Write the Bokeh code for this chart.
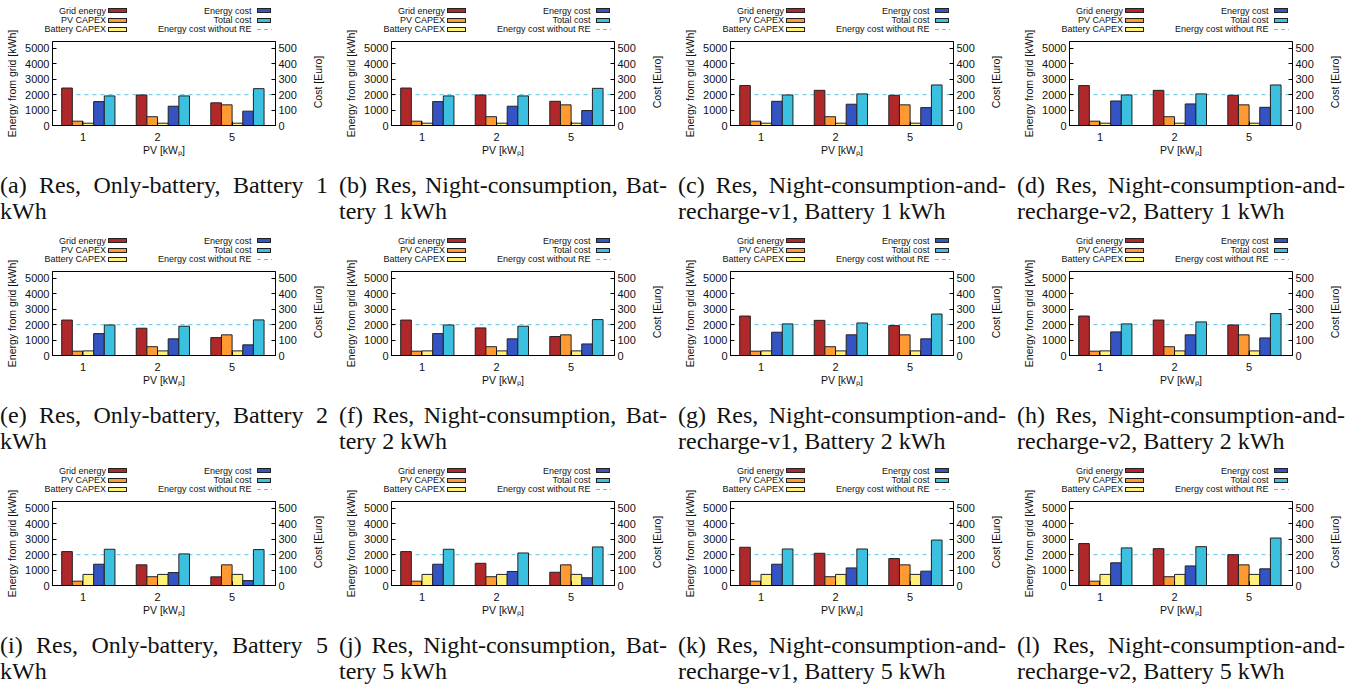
from bokeh.plotting import figure
from bokeh.models import Range1d, LinearAxis, FixedTicker, Span, Div, ColumnDataSource
from bokeh.layouts import column, row
from bokeh.transform import dodge
from bokeh.embed import file_html
from bokeh.resources import INLINE

# ---------------- data ----------------
PV_LABELS = ["1", "2", "5"]           # PV size [kWp]
PV_CAPEX = [28, 57, 134]              # Euro
BATT_CAPEX_1 = [15, 15, 15]           # Euro, battery 1 kWh
BATT_CAPEX_2 = [30, 30, 30]           # Euro, battery 2 kWh
BATT_CAPEX_5 = [72, 72, 72]           # Euro, battery 5 kWh
ENERGY_COST_NO_RE = 200               # Euro

GRID_A = [2430, 1980, 1470]; ECOST_A = [155, 125, 93];  TCOST_A = [192, 192, 239]
GRID_B = [2430, 1980, 1570]; ECOST_B = [155, 125, 97];  TCOST_B = [192, 192, 241]
GRID_C = [2590, 2280, 1960]; ECOST_C = [157, 138, 116]; TCOST_C = [198, 205, 263]
GRID_D = [2590, 2280, 1960]; ECOST_D = [159, 140, 118]; TCOST_D = [198, 205, 263]
GRID_E = [2300, 1770, 1160]; ECOST_E = [142, 108, 69];  TCOST_E = [198, 190, 231]
GRID_F = [2300, 1790, 1230]; ECOST_F = [142, 108, 75];  TCOST_F = [198, 190, 233]
GRID_G = [2560, 2280, 1940]; ECOST_G = [151, 134, 108]; TCOST_G = [205, 211, 269]
GRID_H = [2560, 2300, 1980]; ECOST_H = [153, 134, 114]; TCOST_H = [205, 218, 272]
GRID_I = [2200, 1340, 560];  ECOST_I = [138, 84, 32];   TCOST_I = [235, 205, 233]
GRID_J = [2200, 1440, 860];  ECOST_J = [138, 91, 50];   TCOST_J = [235, 211, 250]
GRID_K = [2480, 2090, 1750]; ECOST_K = [138, 114, 93];  TCOST_K = [237, 237, 295]
GRID_L = [2720, 2390, 2000]; ECOST_L = [147, 127, 108]; TCOST_L = [244, 252, 308]

CAPTION_A = ("(a) Res, Only-battery, Battery 1", "kWh")
CAPTION_B = ("(b) Res, Night-consumption, Bat-", "tery 1 kWh")
CAPTION_C = ("(c) Res, Night-consumption-and-", "recharge-v1, Battery 1 kWh")
CAPTION_D = ("(d) Res, Night-consumption-and-", "recharge-v2, Battery 1 kWh")
CAPTION_E = ("(e) Res, Only-battery, Battery 2", "kWh")
CAPTION_F = ("(f) Res, Night-consumption, Bat-", "tery 2 kWh")
CAPTION_G = ("(g) Res, Night-consumption-and-", "recharge-v1, Battery 2 kWh")
CAPTION_H = ("(h) Res, Night-consumption-and-", "recharge-v2, Battery 2 kWh")
CAPTION_I = ("(i) Res, Only-battery, Battery 5", "kWh")
CAPTION_J = ("(j) Res, Night-consumption, Bat-", "tery 5 kWh")
CAPTION_K = ("(k) Res, Night-consumption-and-", "recharge-v1, Battery 5 kWh")
CAPTION_L = ("(l) Res, Night-consumption-and-", "recharge-v2, Battery 5 kWh")

LEGEND_LEFT = ["Grid energy", "PV CAPEX", "Battery CAPEX"]
LEGEND_RIGHT = ["Energy cost", "Total cost", "Energy cost without RE"]
Y_LABEL = "Energy from grid [kWh]"
Y2_LABEL = "Cost [Euro]"
X_LABEL = "PV [kW\u209a]"

PANELS = [
    (GRID_A, ECOST_A, TCOST_A, BATT_CAPEX_1, CAPTION_A),
    (GRID_B, ECOST_B, TCOST_B, BATT_CAPEX_1, CAPTION_B),
    (GRID_C, ECOST_C, TCOST_C, BATT_CAPEX_1, CAPTION_C),
    (GRID_D, ECOST_D, TCOST_D, BATT_CAPEX_1, CAPTION_D),
    (GRID_E, ECOST_E, TCOST_E, BATT_CAPEX_2, CAPTION_E),
    (GRID_F, ECOST_F, TCOST_F, BATT_CAPEX_2, CAPTION_F),
    (GRID_G, ECOST_G, TCOST_G, BATT_CAPEX_2, CAPTION_G),
    (GRID_H, ECOST_H, TCOST_H, BATT_CAPEX_2, CAPTION_H),
    (GRID_I, ECOST_I, TCOST_I, BATT_CAPEX_5, CAPTION_I),
    (GRID_J, ECOST_J, TCOST_J, BATT_CAPEX_5, CAPTION_J),
    (GRID_K, ECOST_K, TCOST_K, BATT_CAPEX_5, CAPTION_K),
    (GRID_L, ECOST_L, TCOST_L, BATT_CAPEX_5, CAPTION_L),
]

# ---------------- style ----------------
C_GRID = "#b0282a"
C_PV = "#ff9a33"
C_BATT = "#fff07a"
C_ECOST = "#3354c2"
C_TCOST = "#3cc0e0"
C_DASH = "#5ac3e0"
BAR_LINE = "#222222"
SANS = "Liberation Sans"
SERIF = "Liberation Serif"

W = 339            # column pitch
FRAME_L = 52
FRAME_W = 223
LEG_H = 41         # legend block height (frame starts below it)
OVERLAP = 14       # plot canvas reaches this far up into the legend block
FRAME_H = 84
BOT_B = 41
CAP_H = 58
ROW_GAP = 6
BW = 1.0 / 7.0
DECOR_H = LEG_H + FRAME_H   # html decoration layer (legend + right label) height


def make_decor():
    ys = [10.7, 20.0, 29.3]
    left_cols = [C_GRID, C_PV, C_BATT]
    right_cols = [C_ECOST, C_TCOST]
    parts = []
    for i in range(3):
        y = ys[i]
        parts.append(
            f'<div style="position:absolute;left:0px;width:106px;top:{y - 6:.1f}px;height:12px;'
            f'line-height:12px;text-align:right;white-space:nowrap;">{LEGEND_LEFT[i]}</div>')
        parts.append(
            f'<div style="position:absolute;left:0px;width:251.5px;top:{y - 6:.1f}px;height:12px;'
            f'line-height:12px;text-align:right;white-space:nowrap;">{LEGEND_RIGHT[i]}</div>')
        parts.append(
            f'<div style="position:absolute;left:108px;width:19px;top:{y - 2.5:.1f}px;height:5px;'
            f'background:{left_cols[i]};border:1px solid {BAR_LINE};box-sizing:border-box;"></div>')
    for i in range(2):
        y = ys[i]
        parts.append(
            f'<div style="position:absolute;left:257px;width:14px;top:{y - 2.5:.1f}px;height:5px;'
            f'background:{right_cols[i]};border:1px solid {BAR_LINE};box-sizing:border-box;"></div>')
    y = ys[2]
    parts.append(
        f'<div style="position:absolute;left:257px;width:15px;top:{y - 0.5:.1f}px;height:1px;'
        f'background:repeating-linear-gradient(to right,{C_DASH} 0px,{C_DASH} 4px,'
        f'transparent 4px,transparent 7px);"></div>')
    # right axis title, reading bottom-to-top like the left one
    parts.append(
        f'<div style="position:absolute;left:318px;top:82px;transform:translate(-50%,-50%) '
        f'rotate(-90deg);white-space:nowrap;font-size:10.5px;line-height:12px;">{Y2_LABEL}</div>')
    html = (f'<div style="position:relative;width:{W}px;height:{DECOR_H}px;'
            f'font-family:\'{SANS}\';font-size:9px;color:#111;">' + "".join(parts) + '</div>')
    return Div(text=html, width=W, height=DECOR_H, margin=(0, 0, 0, 0))


def style_axis(ax, size="11px"):
    ax.major_tick_in = 4
    ax.major_tick_out = 0
    ax.minor_tick_line_color = None
    ax.axis_line_color = "black"
    ax.major_tick_line_color = "black"
    ax.major_label_text_font = SANS
    ax.major_label_text_font_size = size
    ax.major_label_text_color = "#111111"
    ax.axis_label_text_font = SANS
    ax.axis_label_text_font_size = "10.5px"
    ax.axis_label_text_font_style = "normal"
    ax.axis_label_text_color = "#111111"


def make_plot(grid, ecost, tcost, batt):
    p = figure(width=W, height=OVERLAP + FRAME_H + BOT_B,
               x_range=Range1d(-0.409, 2.582), y_range=Range1d(0, 5450),
               toolbar_location=None, output_backend="svg",
               min_border_left=FRAME_L, min_border_right=W - FRAME_L - FRAME_W,
               min_border_top=OVERLAP, min_border_bottom=BOT_B,
               margin=(-(DECOR_H - LEG_H + OVERLAP), 0, 0, 0))
    p.border_fill_alpha = 0.0
    p.extra_y_ranges = {"cost": Range1d(0, 545)}
    p.grid.visible = False
    p.outline_line_color = "black"
    p.outline_line_alpha = 1.0

    src = ColumnDataSource(dict(pv=[0, 1, 2], grid=grid, pvc=PV_CAPEX, batt=batt,
                                ecost=ecost, tcost=tcost))

    p.add_layout(Span(location=ENERGY_COST_NO_RE, dimension="width", y_range_name="cost",
                      line_color=C_DASH, line_dash="4 4", line_width=1, level="underlay"))

    p.vbar(x=dodge("pv", -1.5 * BW), top="grid", width=BW, source=src,
           fill_color=C_GRID, line_color=BAR_LINE, line_width=1)
    p.vbar(x=dodge("pv", -0.5 * BW), top="pvc", width=BW, source=src, y_range_name="cost",
           fill_color=C_PV, line_color=BAR_LINE, line_width=1)
    p.vbar(x=dodge("pv", 0.5 * BW), top="batt", width=BW, source=src, y_range_name="cost",
           fill_color=C_BATT, line_color=BAR_LINE, line_width=1)
    p.vbar(x=dodge("pv", 1.5 * BW), top="ecost", width=BW, source=src, y_range_name="cost",
           fill_color=C_ECOST, line_color=BAR_LINE, line_width=1)
    p.vbar(x=dodge("pv", 2.5 * BW), top="tcost", width=BW, source=src, y_range_name="cost",
           fill_color=C_TCOST, line_color=BAR_LINE, line_width=1)

    xa = p.xaxis[0]
    style_axis(xa)
    xa.ticker = FixedTicker(ticks=[0, 1, 2])
    xa.major_label_overrides = {0: PV_LABELS[0], 1: PV_LABELS[1], 2: PV_LABELS[2]}
    xa.axis_label = X_LABEL
    xa.major_label_standoff = 7
    xa.axis_label_standoff = 0

    ya = p.yaxis[0]
    style_axis(ya)
    ya.ticker = FixedTicker(ticks=[0, 1000, 2000, 3000, 4000, 5000])
    ya.axis_label = Y_LABEL
    ya.major_label_standoff = 3
    ya.axis_label_standoff = 4

    ya2 = LinearAxis(y_range_name="cost",
                     ticker=FixedTicker(ticks=[0, 100, 200, 300, 400, 500]))
    style_axis(ya2)
    ya2.major_label_standoff = 3
    p.add_layout(ya2, "right")
    return p


def make_caption(cap):
    l1, l2 = cap
    html = (
        f'<div style="font-family:\'{SERIF}\';font-size:24px;line-height:26px;color:#111;'
        f'padding-top:6px;width:328px;">'
        f'<div style="text-align:justify;text-align-last:justify;">{l1}</div>'
        f'<div style="text-align:left;">{l2}</div></div>'
    )
    return Div(text=html, width=328, height=CAP_H, margin=(0, 0, 0, 0))


panels = []
for grid, ecost, tcost, batt, cap in PANELS:
    panels.append(column(make_decor(), make_plot(grid, ecost, tcost, batt), make_caption(cap),
                         spacing=0))

rows = [row(panels[i * 4:(i + 1) * 4], spacing=0) for i in range(3)]
layout = column(rows, spacing=ROW_GAP)

open("out.html", "w").write(file_html(layout, INLINE))
